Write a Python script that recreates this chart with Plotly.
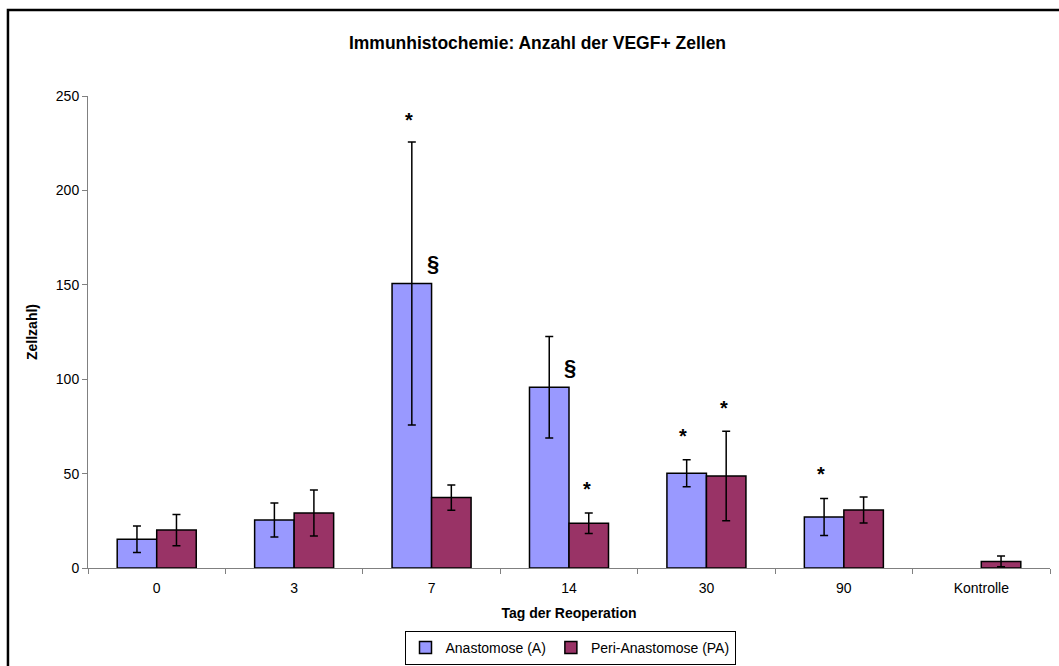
import plotly.graph_objects as go

# Tag der Reoperation (categories on the x axis)
categories = ["0", "3", "7", "14", "30", "90", "Kontrolle"]

# Mean VEGF+ cell counts and standard deviations
anastomose = [15.2, 25.4, 150.7, 95.7, 50.2, 27.0, None]
anastomose_sd = [7.0, 9.0, 74.9, 26.9, 7.2, 9.8, None]
peri_anastomose = [20.1, 29.1, 37.3, 23.7, 48.7, 30.7, 3.5]
peri_anastomose_sd = [8.3, 12.2, 6.7, 5.4, 23.7, 6.9, 2.9]

# Significance marks: (category, series, symbol, value level)
sig_marks = [
    ("7", "A", "*", 238.5),
    ("7", "mid", "§", 161.0),
    ("14", "mid", "§", 105.6),
    ("14", "PA", "*", 42.9),
    ("30", "A", "*", 70.8),
    ("30", "PA", "*", 86.0),
    ("90", "A", "*", 50.8),
]

y_ticks = [0, 50, 100, 150, 200, 250]

FONT = "Liberation Sans, Arial, sans-serif"
W, H = 1059, 666

fig = go.Figure()
fig.add_bar(
    x=categories, y=anastomose, name="Anastomose (A)",
    marker=dict(color="#9999FF", line=dict(color="#000000", width=1.5)),
    error_y=dict(type="data", array=anastomose_sd, visible=True,
                 color="#000000", thickness=1.5, width=4),
)
fig.add_bar(
    x=categories, y=peri_anastomose, name="Peri-Anastomose (PA)",
    marker=dict(color="#993366", line=dict(color="#000000", width=1.5)),
    error_y=dict(type="data", array=peri_anastomose_sd, visible=True,
                 color="#000000", thickness=1.5, width=4),
)

# horizontal pixel offset of each mark from its category centre
offsets = {"A": -23, "PA": 18, "mid": 1}
for cat, series, sym, level in sig_marks:
    size = 22 if sym == "§" else 20
    fig.add_annotation(
        x=categories.index(cat), y=level, xref="x", yref="y",
        text=f"<b>{sym}</b>", showarrow=False, xshift=offsets[series],
        yshift=-2 if sym == "*" else 1,
        font=dict(family=FONT, size=size, color="#000000"),
        xanchor="center", yanchor="middle",
    )

# outer chart frame
fig.add_shape(type="rect", xref="paper", yref="paper",
              x0=-0.0832, x1=1.05, y0=-0.4, y1=1.182,
              line=dict(color="#000000", width=2.5), fillcolor="rgba(0,0,0,0)",
              layer="below")

fig.update_layout(
    width=W, height=H,
    margin=dict(l=88, r=9, t=96, b=98, autoexpand=False),
    paper_bgcolor="#FFFFFF", plot_bgcolor="#FFFFFF",
    barmode="group", bargap=0.425, bargroupgap=0,
    font=dict(family=FONT, size=14, color="#000000"),
    title=dict(text="<b>Immunhistochemie: Anzahl der VEGF+ Zellen</b>",
               x=537.5 / W, xref="container", xanchor="center",
               y=1 - 43 / H, yref="container", yanchor="middle",
               font=dict(family=FONT, size=17.5, color="#000000")),
    showlegend=True,
    legend=dict(orientation="h", x=570 / W, xanchor="center", xref="container",
                y=1 - 648 / H, yanchor="middle", yref="container",
                bordercolor="#000000", borderwidth=1,
                font=dict(family=FONT, size=14, color="#000000"),
                itemwidth=30, tracegroupgap=0),
    xaxis=dict(type="category", categoryorder="array", categoryarray=categories,
               range=[-0.5, len(categories) - 0.5], fixedrange=True,
               automargin=False,
               showline=True, linecolor="#808080", linewidth=1,
               ticks="outside", tickson="boundaries", ticklen=5, tickcolor="#808080",
               ticklabelstandoff=7,
               showgrid=False, zeroline=False, tickangle=0,
               tickfont=dict(family=FONT, size=14, color="#000000"),
               title=dict(text="<b>Tag der Reoperation</b>", standoff=13,
                          font=dict(family=FONT, size=14, color="#000000"))),
    yaxis=dict(range=[0, 250], tickvals=y_ticks, showline=True, automargin=False,
               linecolor="#808080", linewidth=1, ticks="outside", ticklen=5,
               tickcolor="#808080", showgrid=False, zeroline=False,
               tickfont=dict(family=FONT, size=14, color="#000000"),
               title=dict(text="<b>Zellzahl)</b>", standoff=14,
                          font=dict(family=FONT, size=14, color="#000000"))),
)

fig.write_html("out.html")
